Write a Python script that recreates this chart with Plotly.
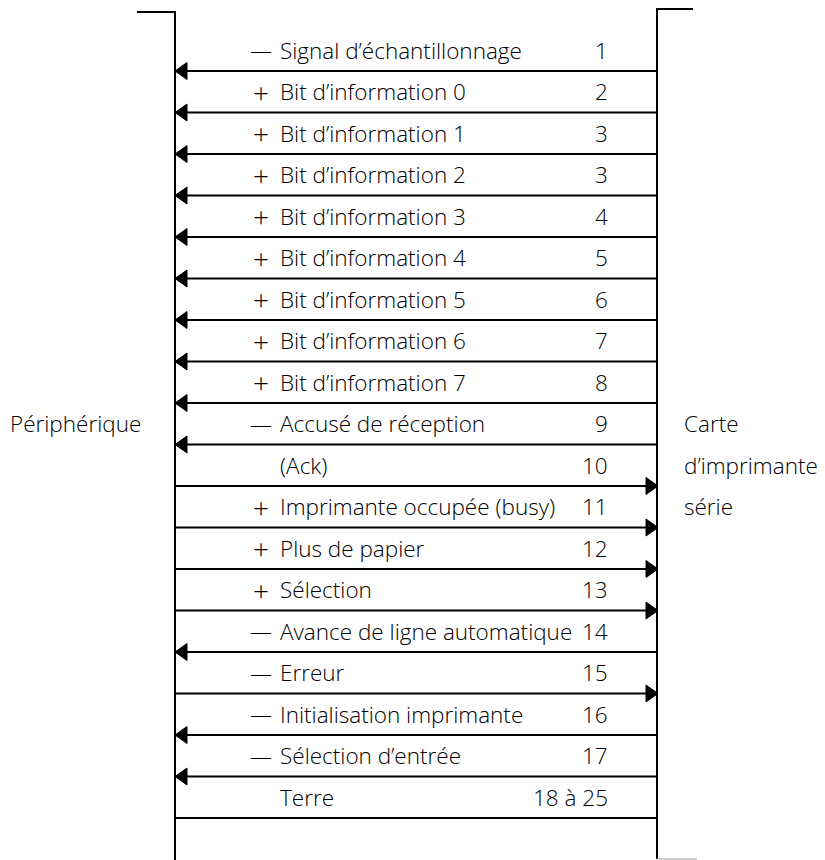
import plotly.graph_objects as go

# ---- data ----
signs = ["—", "+", "+", "+", "+", "+", "+", "+", "+", "—",
         "", "+", "+", "+", "—", "—", "—", "—", ""]
names = ["Signal d’échantillonnage", "Bit d’information 0", "Bit d’information 1",
         "Bit d’information 2", "Bit d’information 3", "Bit d’information 4",
         "Bit d’information 5", "Bit d’information 6", "Bit d’information 7",
         "Accusé de réception", "(Ack)", "Imprimante occupée (busy)",
         "Plus de papier", "Sélection", "Avance de ligne automatique",
         "Erreur", "Initialisation imprimante", "Sélection d’entrée", "Terre"]
pins = ["1", "2", "3", "3", "4", "5", "6", "7", "8", "9", "10", "11",
        "12", "13", "14", "15", "16", "17", "18 à 25"]
# direction of the arrow on the line below each row
directions = ["left"] * 10 + ["right", "right", "right", "right", "left",
                              "right", "left", "left", None]
left_label = "Périphérique"
right_label = ["Carte", "d’imprimante", "série"]

# ---- layout constants (pixel-like axis units) ----
W, H = 825, 860
LX, RX = 175, 657
Y0, STEP = 71, 41.5
SIGN_X, NAME_X, PIN_X = 261, 278, 610
FONT = "'Open Sans', 'Noto Sans', sans-serif"
FS = 22.5
SIGN_SIZE = {"—": 22, "+": 28}

fig = go.Figure()

n = len(names)
line_y = [Y0 + i * STEP for i in range(n)]
text_y = [y - 21 for y in line_y]

# horizontal lines
hx, hy = [], []
for y in line_y:
    hx += [LX, RX, None]
    hy += [y, y, None]
fig.add_trace(go.Scatter(x=hx, y=hy, mode="lines",
                         line=dict(color="black", width=2), hoverinfo="skip"))

# frame lines (verticals + ticks)
fig.add_trace(go.Scatter(x=[137, LX, LX, None, 693, RX, RX],
                         y=[12, 12, 860, None, 9, 9, 859],
                         mode="lines", line=dict(color="black", width=2),
                         hoverinfo="skip"))
fig.add_trace(go.Scatter(x=[RX, 697], y=[859, 859], mode="lines",
                         line=dict(color="#bbbbbb", width=1.5), hoverinfo="skip"))

# arrowheads
ax, ay = [], []
for y, d in zip(line_y, directions):
    if d == "left":
        ax += [LX, LX + 12, LX + 12, LX, None]
        ay += [y, y - 8.5, y + 8.5, y, None]
    elif d == "right":
        ax += [RX + 1, RX - 11, RX - 11, RX + 1, None]
        ay += [y, y - 8.5, y + 8.5, y, None]
fig.add_trace(go.Scatter(x=ax, y=ay, mode="lines", fill="toself",
                         fillcolor="black", line=dict(color="black", width=1),
                         hoverinfo="skip"))

annots = []
for s, nm, p, y in zip(signs, names, pins, text_y):
    if s:
        annots.append(dict(x=SIGN_X, y=y, text=s, xanchor="center",
                           font=dict(family=FONT, size=SIGN_SIZE[s],
                                     color="black", weight=300)))
    annots.append(dict(x=NAME_X, y=y, text=nm, xanchor="left"))
    annots.append(dict(x=PIN_X, y=y, text=p, xanchor="right"))
annots.append(dict(x=8, y=text_y[9], text=left_label, xanchor="left"))
for k, t in enumerate(right_label):
    annots.append(dict(x=682, y=text_y[9 + k], text=t, xanchor="left"))
for a in annots:
    a.update(xref="x", yref="y", showarrow=False, yanchor="middle")
    if "font" not in a:
        a["font"] = dict(family=FONT, size=FS, color="black", weight=300)

fig.update_layout(
    width=W, height=H, margin=dict(l=0, r=0, t=0, b=0),
    paper_bgcolor="white", plot_bgcolor="white", showlegend=False,
    xaxis=dict(range=[0, W], visible=False, fixedrange=True),
    yaxis=dict(range=[H, 0], visible=False, fixedrange=True),
    annotations=annots,
)

fig.write_html("out.html", config={"displayModeBar": False},
               post_script="document.body.style.margin='0';")
